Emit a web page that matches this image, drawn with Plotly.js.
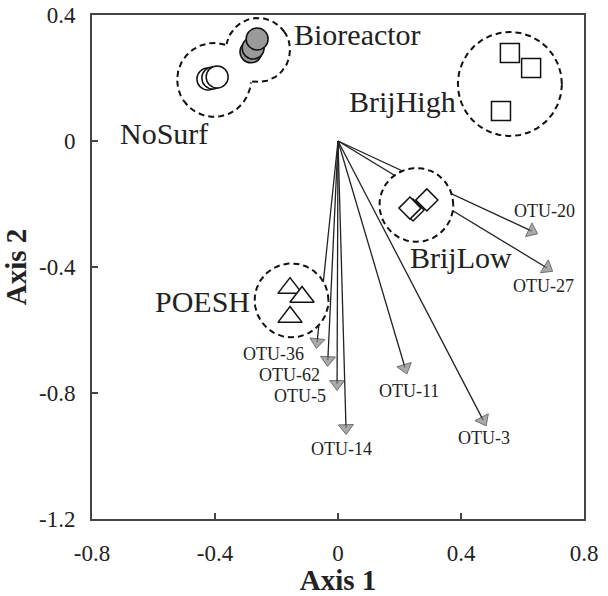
<!DOCTYPE html>
<html>
<head>
<meta charset="utf-8">
<script src="https://cdn.plot.ly/plotly-3.0.1.min.js"></script>
<style>
  html, body { margin: 0; padding: 0; background: #fff; }
  #chart { width: 608px; height: 596px; }
</style>
</head>
<body>
<div id="chart"></div>
<script>
// NMDS-style ordination: sample groups + OTU vectors

// sample scores per group
var noSurfAxis1 = [-0.423, -0.407, -0.393];
var noSurfAxis2 = [0.197, 0.200, 0.203];
var bioAxis1 = [-0.283, -0.276, -0.263];
var bioAxis2 = [0.283, 0.295, 0.324];
var brijHighAxis1 = [0.559, 0.628, 0.530];
var brijHighAxis2 = [0.279, 0.232, 0.095];
var brijLowAxis1 = [0.289, 0.244, 0.234];
var brijLowAxis2 = [-0.187, -0.219, -0.213];
var poeshAxis1 = [-0.156, -0.117, -0.156];
var poeshAxis2 = [-0.467, -0.495, -0.559];

// OTU vectors (arrow tips)
var otuNames = ['OTU-20', 'OTU-27', 'OTU-36', 'OTU-62', 'OTU-5', 'OTU-14', 'OTU-11', 'OTU-3'];
var otuAxis1 = [0.630, 0.680, -0.068, -0.033, -0.003, 0.026, 0.218, 0.472];
var otuAxis2 = [-0.286, -0.403, -0.638, -0.695, -0.771, -0.911, -0.720, -0.886];

// dashed group outlines (centre + radius in Axis 1 units), same cluster id = merged
var hullAxis1 = [-0.403, -0.260, 0.559, 0.255, -0.151];
var hullAxis2 = [0.194, 0.289, 0.181, -0.203, -0.506];
var hullRadius = [0.120, 0.104, 0.169, 0.120, 0.120];
var hullCluster = [0, 0, 1, 2, 3];

// group labels
var groupNames = ['Bioreactor', 'NoSurf', 'BrijHigh', 'BrijLow', 'POESH'];
var groupLabelAxis1 = [0.065, -0.566, 0.211, 0.400, -0.442];
var groupLabelAxis2 = [0.337, 0.025, 0.124, -0.371, -0.511];

// ticks
var xTickVals = [-0.8, -0.4, 0, 0.4, 0.8];
var xTickText = ['-0.8', '-0.4', '0', '0.4', '0.8'];
var yTickVals = [0.4, 0, -0.4, -0.8, -1.2];
var yTickText = ['0.4', '0', '-0.4', '-0.8', '-1.2'];

// label pixel offsets from arrow tips
var otuShiftX = [13, -4, -44, -38, -37, -5, 4, 1];
var otuShiftY = [20, -18, -12, -15, -12, -21, -23, -18];

var W = 608, H = 596;
var M = { l: 92, r: 24, t: 15, b: 77 };
var pxX = (W - M.l - M.r) / 1.6;
var pxY = (H - M.t - M.b) / 1.6;
var aspect = pxX / pxY;

var serif = 'Liberation Serif, Times New Roman, serif';
var ink = '#222';

var traces = [];

// arrows
var ax = [], ay = [], asz = [];
for (var i = 0; i < otuNames.length; i++) {
  ax.push(0, otuAxis1[i], null);
  ay.push(0, otuAxis2[i], null);
  asz.push(0, 13, 0);
}
traces.push({
  x: ax, y: ay, type: 'scatter', mode: 'lines+markers',
  line: { color: ink, width: 1.3 },
  marker: {
    symbol: 'triangle-up', angleref: 'previous', size: asz,
    color: '#858585', line: { color: '#333', width: 1 }
  },
  hoverinfo: 'skip', showlegend: false
});

// white fills behind outlines
function circlePts(k, n, start) {
  var xs = [], ys = [];
  var r = hullRadius[k], ry = r * aspect;
  for (var j = 0; j <= n; j++) {
    var t = start + j * 2 * Math.PI / n;
    xs.push(hullAxis1[k] + r * Math.cos(t));
    ys.push(hullAxis2[k] + ry * Math.sin(t));
  }
  return [xs, ys];
}
for (var k = 0; k < hullAxis1.length; k++) {
  var c = circlePts(k, 120, 0);
  traces.push({
    x: c[0], y: c[1], type: 'scatter', mode: 'lines', fill: 'toself',
    fillcolor: '#fff', line: { width: 0, color: 'rgba(0,0,0,0)' },
    hoverinfo: 'skip', showlegend: false
  });
}

// dashed outlines (union of circles in a cluster)
var ox = [], oy = [];
for (var k = 0; k < hullAxis1.length; k++) {
  var others = [];
  for (var m = 0; m < hullAxis1.length; m++) {
    if (m !== k && hullCluster[m] === hullCluster[k]) others.push(m);
  }
  var start = 0;
  if (others.length) {
    var o = others[0];
    start = Math.atan2((hullAxis2[k] - hullAxis2[o]) / aspect, hullAxis1[k] - hullAxis1[o]);
  }
  var c = circlePts(k, 160, start);
  var open = false;
  for (var j = 0; j < c[0].length; j++) {
    var inside = others.some(function (m) {
      var dx = (c[0][j] - hullAxis1[m]) / hullRadius[m];
      var dy = (c[1][j] - hullAxis2[m]) / (hullRadius[m] * aspect);
      return dx * dx + dy * dy < 1;
    });
    if (inside) {
      if (open) { ox.push(null); oy.push(null); open = false; }
    } else {
      ox.push(c[0][j]); oy.push(c[1][j]); open = true;
    }
  }
  ox.push(null); oy.push(null);
}
traces.push({
  x: ox, y: oy, type: 'scatter', mode: 'lines',
  line: { color: '#111', width: 2, dash: '6px,4px' },
  hoverinfo: 'skip', showlegend: false
});

// sample markers
function samples(xs, ys, symbol, size, fill) {
  return {
    x: xs, y: ys, type: 'scatter', mode: 'markers',
    marker: { symbol: symbol, size: size, color: fill, line: { color: '#111', width: 1.5 } },
    hoverinfo: 'skip', showlegend: false
  };
}
traces.push(samples(noSurfAxis1, noSurfAxis2, 'circle', 22, '#fff'));
traces.push(samples(bioAxis1, bioAxis2, 'circle', 22, '#9a9a9a'));
traces.push(samples(brijHighAxis1, brijHighAxis2, 'square', 19, '#fff'));
traces.push(samples(brijLowAxis1, brijLowAxis2, 'diamond', 17, '#fff'));
traces.push(samples(poeshAxis1, poeshAxis2, 'triangle-up', 21, '#fff'));

var annotations = [];
for (var i = 0; i < otuNames.length; i++) {
  annotations.push({
    x: otuAxis1[i], y: otuAxis2[i], text: otuNames[i], showarrow: false,
    xshift: otuShiftX[i], yshift: otuShiftY[i],
    font: { family: serif, size: 18, color: ink }
  });
}
for (var g = 0; g < groupNames.length; g++) {
  annotations.push({
    x: groupLabelAxis1[g], y: groupLabelAxis2[g], text: groupNames[g], showarrow: false,
    font: { family: serif, size: 30, color: ink }
  });
}

var axisBase = {
  showgrid: false, zeroline: false, showline: true, mirror: true,
  linecolor: '#444', linewidth: 2,
  ticks: 'inside', ticklen: 6, tickwidth: 1.5, tickcolor: '#444',
  tickfont: { family: serif, size: 23, color: ink }
};

var layout = {
  width: W, height: H,
  margin: M,
  paper_bgcolor: '#fff', plot_bgcolor: '#fff',
  showlegend: false,
  xaxis: Object.assign({}, axisBase, {
    range: [-0.8, 0.8], tickvals: xTickVals, ticktext: xTickText,
    ticklabelstandoff: 12,
    title: { text: '<b>Axis 1</b>', standoff: 8, font: { family: serif, size: 29, color: ink } }
  }),
  yaxis: Object.assign({}, axisBase, {
    range: [-1.2, 0.4], tickvals: yTickVals, ticktext: yTickText,
    ticklabelstandoff: 10,
    title: { text: '<b>Axis 2</b>', standoff: 4, font: { family: serif, size: 29, color: ink } }
  }),
  annotations: annotations
};

Plotly.newPlot('chart', traces, layout, { staticPlot: true });
</script>
</body>
</html>
